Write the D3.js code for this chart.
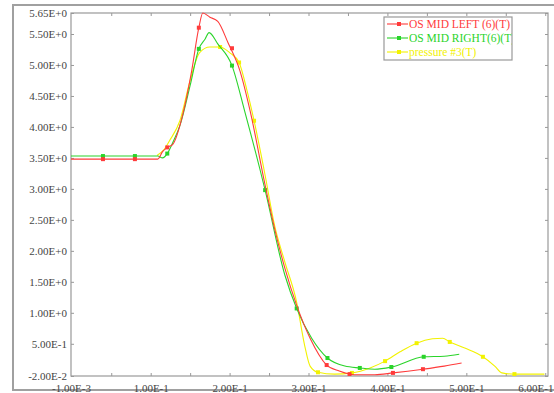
<!DOCTYPE html>
<html><head><meta charset="utf-8">
<script src="https://cdn.jsdelivr.net/npm/d3@7"></script>
<style>body{margin:0;background:#fff}svg{display:block}</style>
</head><body>
<svg id="c" width="554" height="393"></svg>
<script>
// ---- data ----
const seriesNames = ["OS MID LEFT (6)(T)", "OS MID RIGHT(6)(T)", "pressure #3(T)"];
const seriesColors = ["#ff3b3b", "#2ad42a", "#f2f200"];

const redX = [-0.001,0.0395,0.080,0.109,0.115,0.121,0.128,0.141,0.152,0.161,0.166,0.175,0.185,0.198,0.213,0.226,0.245,0.257,0.270,0.285,0.302,0.323,0.339,0.358,0.384,0.407,0.445,0.472,0.494];
const redY = [3.48,3.48,3.48,3.48,3.60,3.67,3.72,4.22,4.91,5.545,5.65,5.62,5.59,5.36,4.91,4.26,3.06,2.36,1.72,1.12,0.59,0.157,0.06,0.00,0.00,0.03,0.09,0.14,0.19];
const redMarkX = [0.0395,0.080,0.121,0.161,0.203,0.323,0.352,0.407,0.445];
const redMarkY = [3.48,3.48,3.67,5.545,5.27,0.157,0.01,0.03,0.09];

const greenX = [-0.001,0.0395,0.080,0.109,0.115,0.121,0.128,0.137,0.150,0.161,0.169,0.174,0.185,0.203,0.219,0.245,0.270,0.285,0.304,0.324,0.346,0.365,0.384,0.405,0.446,0.472,0.491];
const greenY = [3.53,3.53,3.53,3.53,3.50,3.57,3.75,4.02,4.67,5.26,5.42,5.51,5.34,4.99,4.26,2.98,1.61,1.07,0.59,0.27,0.14,0.11,0.09,0.125,0.29,0.30,0.33];
const greenMarkX = [0.0395,0.080,0.121,0.161,0.203,0.245,0.285,0.324,0.365,0.405,0.446];
const greenMarkY = [3.53,3.53,3.57,5.26,4.99,2.98,1.07,0.27,0.11,0.125,0.29];

const yellowX = [0.108,0.116,0.124,0.137,0.150,0.162,0.175,0.188,0.200,0.212,0.222,0.231,0.245,0.257,0.270,0.285,0.295,0.302,0.312,0.333,0.355,0.378,0.397,0.416,0.437,0.457,0.470,0.479,0.498,0.521,0.536,0.545,0.561,0.599];
const yellowY = [3.54,3.62,3.78,4.10,4.75,5.20,5.29,5.29,5.20,5.04,4.59,4.10,3.22,2.41,1.82,1.17,0.48,0.14,0.04,0.01,0.03,0.11,0.22,0.37,0.51,0.58,0.59,0.53,0.43,0.29,0.14,0.03,0.01,0.01];
const yellowMarkX = [0.188,0.212,0.231,0.312,0.355,0.397,0.437,0.479,0.521,0.561];
const yellowMarkY = [5.29,5.04,4.10,0.04,0.03,0.22,0.51,0.53,0.29,0.01];

const xTicks = [-0.001,0.1,0.2,0.3,0.4,0.5,0.6];
const xTickLabels = ["-1.00E-3","1.00E-1","2.00E-1","3.00E-1","4.00E-1","5.00E-1","6.00E-1"];
const xMinorTicks = [0.05,0.1,0.15,0.2,0.25,0.3,0.35,0.4,0.45,0.5,0.55,0.6];
const yTicks = [-0.02,0.5,1.0,1.5,2.0,2.5,3.0,3.5,4.0,4.5,5.0,5.5,5.65];
const yTickLabels = ["-2.00E-2","5.00E-1","1.00E+0","1.50E+0","2.00E+0","2.50E+0","3.00E+0","3.50E+0","4.00E+0","4.50E+0","5.00E+0","5.50E+0","5.65E+0"];

// ---- layout ----
const W = 554, L = 71, R = 548, T = 13, B = 376;
const svg = d3.select("#c");
const font = "'Liberation Serif','DejaVu Serif',serif";

const x = d3.scaleLinear().domain([-0.001, 0.6035]).range([L, R]);
const y = d3.scaleLinear().domain([-0.02, 5.5, 5.65]).range([B, 34, T]);

svg.append("rect").attr("x",13).attr("y",5).attr("width",545).attr("height",385)
  .attr("fill","none").attr("stroke","#a0a0a0").attr("stroke-width",2);
svg.append("rect").attr("x",L).attr("y",T).attr("width",R-L).attr("height",B-T)
  .attr("fill","none").attr("stroke","#999").attr("stroke-width",1.2);

const axisColor = "#999";
const gb = svg.append("g").attr("transform",`translate(0,${B})`)
  .call(d3.axisBottom(x).tickValues(xTicks).tickFormat((d,i)=>xTickLabels[i]).tickSize(0).tickPadding(8));
gb.select(".domain").remove();
gb.selectAll("text").attr("font-family",font).attr("font-size",11).attr("fill","#444");
// keep the last label inside the picture
gb.selectAll("text").filter((d,i)=>i===xTicks.length-1).each(function(d){
  const w = this.getComputedTextLength();
  const over = x(d) + w/2 - (W-1);
  if (over > 0) d3.select(this).attr("dx", -over);
});
const gbm = svg.append("g").attr("transform",`translate(0,${B})`)
  .call(d3.axisTop(x).tickValues(xMinorTicks).tickFormat("").tickSize(3));
gbm.select(".domain").remove();
gbm.selectAll("line").attr("stroke",axisColor);
const gt = svg.append("g").attr("transform",`translate(0,${T})`)
  .call(d3.axisBottom(x).tickValues(xMinorTicks).tickFormat("").tickSize(3));
gt.select(".domain").remove();
gt.selectAll("line").attr("stroke",axisColor);
const gl = svg.append("g").attr("transform",`translate(${L},0)`)
  .call(d3.axisRight(y).tickValues(yTicks).tickFormat("").tickSize(3));
gl.select(".domain").remove();
gl.selectAll("line").attr("stroke",axisColor);
const gll = svg.append("g").attr("transform",`translate(${L},0)`)
  .call(d3.axisLeft(y).tickValues(yTicks).tickFormat((d,i)=>yTickLabels[i]).tickSize(0).tickPadding(4));
gll.select(".domain").remove();
gll.selectAll("text").attr("font-family",font).attr("font-size",11).attr("fill","#444");
const gr = svg.append("g").attr("transform",`translate(${R},0)`)
  .call(d3.axisLeft(y).tickValues(yTicks).tickFormat("").tickSize(3));
gr.select(".domain").remove();
gr.selectAll("line").attr("stroke",axisColor);

// ---- series ----
const series = [
  {x: yellowX, y: yellowY, mx: yellowMarkX, my: yellowMarkY, c: seriesColors[2]},
  {x: greenX, y: greenY, mx: greenMarkX, my: greenMarkY, c: seriesColors[1]},
  {x: redX, y: redY, mx: redMarkX, my: redMarkY, c: seriesColors[0]},
];
const line = d3.line().x(d=>x(d[0])).y(d=>y(d[1])).curve(d3.curveMonotoneX);
svg.append("clipPath").attr("id","pc").append("rect").attr("x",L).attr("y",T-1).attr("width",R-L).attr("height",B-T+1);
const plot = svg.append("g").attr("clip-path","url(#pc)");
series.forEach(s=>{
  const pts = s.x.map((v,i)=>[v,s.y[i]]);
  plot.append("path").datum(pts).attr("d",line).attr("fill","none")
    .attr("stroke",s.c).attr("stroke-width",1.1);
  const mk = s.mx.map((v,i)=>[v,s.my[i]]);
  plot.selectAll(null).data(mk).enter().append("rect")
    .attr("x",d=>x(d[0])-2).attr("y",d=>y(d[1])-2).attr("width",4).attr("height",4)
    .attr("fill",s.c);
});

// ---- legend ----
const lx = 384, ly = 17, lw = 128, lh = 43;
svg.append("clipPath").attr("id","lc").append("rect").attr("x",lx).attr("y",ly).attr("width",lw).attr("height",lh);
const lg = svg.append("g");
lg.append("rect").attr("x",lx).attr("y",ly).attr("width",lw).attr("height",lh)
  .attr("fill","#fff").attr("stroke","#999").attr("stroke-width",1.2);
const lgi = lg.append("g").attr("clip-path","url(#lc)");
seriesNames.forEach((n,i)=>{
  const yy = ly + 7 + i*14;
  lgi.append("line").attr("x1",lx+3).attr("x2",lx+24).attr("y1",yy).attr("y2",yy)
    .attr("stroke",seriesColors[i]).attr("stroke-width",1.1);
  lgi.append("rect").attr("x",lx+13).attr("y",yy-2).attr("width",4).attr("height",4).attr("fill",seriesColors[i]);
  lgi.append("text").attr("x",lx+25).attr("y",yy+4).text(n)
    .attr("font-family",font).attr("font-size",11.5).attr("fill",seriesColors[i]);
});
</script>
</body></html>
